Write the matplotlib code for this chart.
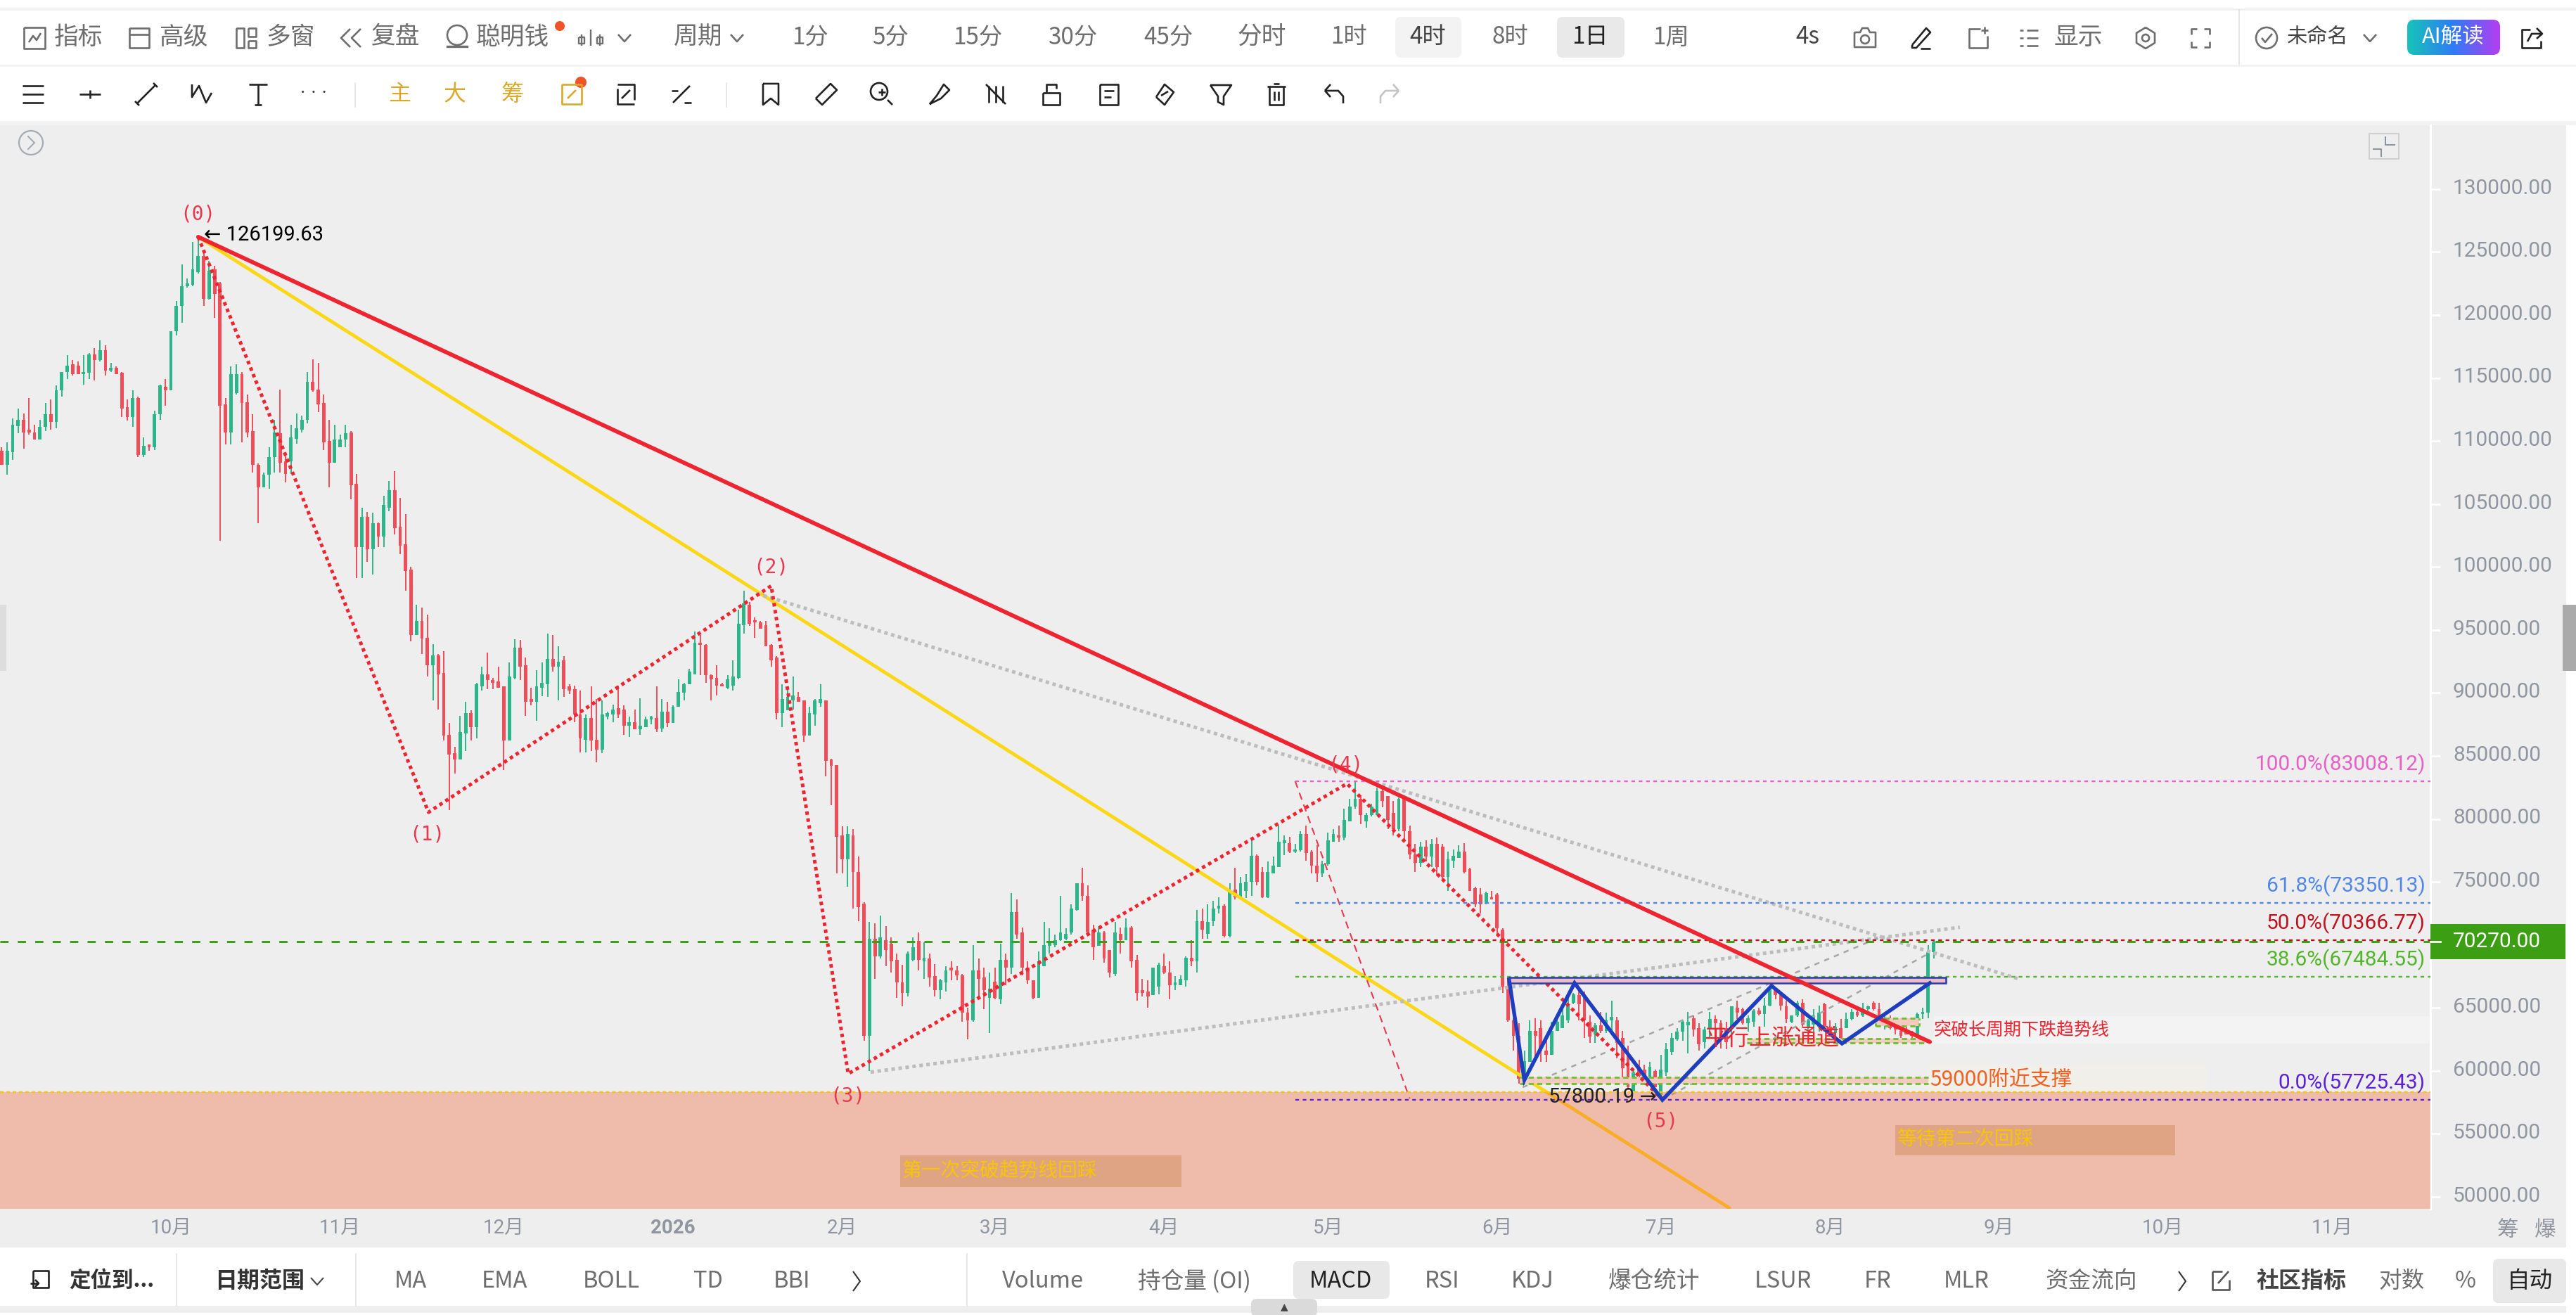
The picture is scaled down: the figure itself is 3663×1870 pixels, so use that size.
import numpy as np
import matplotlib
matplotlib.use("Agg")
import matplotlib.pyplot as plt
from matplotlib.colors import LinearSegmentedColormap
from matplotlib.patches import Circle, FancyBboxPatch, Rectangle
from matplotlib.transforms import ScaledTranslation

plt.rcParams["font.family"] = ["Noto Sans CJK SC", "DejaVu Sans"]

W, H = 3663, 1870

# daily candles in thousands
opens = [
    109.2,108.1,109.1,111.2,111.7,110.9,110.7,110.1,111.1,112.1,
    111.5,114.0,115.5,116.1,116.0,115.3,115.4,116.9,116.4,117.2,
    115.6,115.8,115.4,112.7,111.9,113.4,108.9,109.7,109.5,112.1,
    114.3,114.0,118.7,120.7,122.3,122.4,123.4,124.7,121.3,123.6,
    122.5,112.9,110.7,113.8,115.3,113.1,110.8,108.1,106.3,107.3,
    108.7,110.6,108.4,108.4,110.2,110.9,111.7,114.7,114.1,113.0,
    110.0,108.3,109.5,110.1,110.7,106.6,101.6,104.0,101.4,103.5,
    102.4,104.7,106.1,103.2,101.8,99.8,94.6,95.7,94.4,92.2,
    93.0,91.6,86.7,85.2,84.7,86.8,88.4,87.3,90.5,91.5,
    91.05,90.9,90.5,86.2,91.2,93.6,92.2,89.5,89.3,90.4,
    90.7,92.7,92.1,92.6,90.5,90.3,88.3,86.3,88.0,86.3,
    85.5,88.1,88.3,88.8,88.7,87.4,87.7,87.1,87.3,87.9,
    88.0,87.2,88.5,87.6,88.9,90.0,90.7,91.5,94.0,93.8,
    91.4,91.2,90.7,90.4,90.6,91.2,95.4,97.0,95.8,95.6,
    95.4,93.8,92.8,88.4,88.6,89.4,89.7,89.4,86.6,88.3,
    89.2,89.4,84.7,84.3,78.7,76.8,78.7,75.8,73.3,62.8,
    70.5,69.1,70.4,70.1,68.8,67.0,66.2,68.8,70.3,68.7,
    68.9,67.5,66.4,67.0,68.2,68.0,67.6,64.6,64.0,68.0,
    67.4,65.8,67.1,65.7,68.8,68.2,72.6,71.0,68.2,67.2,
    65.8,68.3,69.9,70.0,70.4,70.5,71.0,72.8,74.9,73.9,
    71.2,69.9,71.0,69.6,67.7,70.9,70.4,71.4,68.8,66.4,
    66.3,66.0,66.7,68.3,67.8,66.8,66.8,67.2,69.0,68.7,
    71.9,70.9,71.9,72.9,73.1,70.7,74.4,73.8,74.3,75.0,
    77.1,75.8,73.8,75.7,76.2,78.1,78.1,77.4,77.5,78.8,
    77.4,76.3,75.7,76.4,78.2,78.7,78.5,79.8,81.0,81.6,
    79.8,80.3,80.3,82.2,81.8,80.5,79.2,81.6,79.0,77.2,
    76.5,77.8,77.0,78.0,77.8,75.4,76.7,76.9,77.4,76.0,
    74.5,74.0,73.3,73.8,74.0,71.2,66.7,64.0,62.8,59.4,
    60.7,63.2,63.4,61.6,61.3,63.2,63.4,64.0,65.4,66.0,
    65.8,63.9,62.9,63.6,63.2,64.0,64.0,62.6,61.3,58.4,
    60.3,60.1,59.0,60.0,58.1,59.9,61.5,62.5,63.1,63.6,
    64.2,63.4,62.3,63.3,64.1,63.8,63.4,63.5,65.0,64.9,
    63.8,63.9,64.8,64.5,65.2,66.4,66.0,65.1,63.9,64.4,
    65.4,63.5,63.7,63.5,65.3,63.5,63.0,63.4,63.4,64.1,
    64.7,64.4,64.9,65.4,64.9,63.7,63.9,63.6,63.2,63.2,
    63.1,62.9,64.5,64.6,69.4,
]
highs = [
    109.5,109.9,111.8,112.6,112.2,113.4,111.3,111.7,113.0,113.3,
    114.4,115.5,116.8,116.4,116.3,116.8,117.0,117.4,118.0,117.6,
    116.2,115.9,115.5,113.3,114.0,113.5,110.3,109.7,112.4,114.5,
    114.9,118.7,121.1,124.0,122.9,125.8,126.2,124.9,124.3,123.9,
    122.6,113.4,115.9,116.1,115.5,113.7,112.1,108.2,107.5,109.5,
    111.7,114.1,109.1,111.3,112.2,112.0,115.5,116.5,116.2,113.7,
    111.7,111.3,110.5,111.3,110.8,107.4,104.7,104.35,104.3,103.55,
    105.65,106.8,107.6,105.5,104.2,100.0,97.0,96.75,96.2,93.9,
    93.1,93.3,87.6,85.7,88.2,89.3,88.6,90.8,92.1,93.2,
    91.2,92.1,90.5,92.4,94.25,94.2,92.8,90.4,91.8,92.4,
    94.7,94.6,93.7,92.9,90.7,90.6,90.2,88.3,90.5,89.5,
    89.4,88.5,89.1,90.6,89.0,88.1,88.7,89.6,88.1,88.2,
    90.5,89.5,89.3,89.0,91.1,90.8,91.9,94.9,94.6,93.9,
    91.5,92.2,90.8,91.4,92.6,96.6,98.1,97.2,96.0,95.7,
    95.7,93.9,92.9,90.7,90.5,91.3,90.1,89.4,88.9,89.5,
    90.7,89.4,84.8,84.3,79.4,79.4,79.2,77.0,73.4,71.8,
    71.7,72.3,71.5,70.6,69.3,68.4,69.5,70.6,71.0,70.2,
    69.3,68.5,67.3,68.3,68.7,68.3,67.7,65.0,70.0,68.9,
    68.2,67.8,68.2,70.1,69.3,74.1,73.6,71.4,68.7,67.2,
    69.5,71.8,71.3,70.8,73.9,71.3,73.2,74.9,76.1,74.7,
    71.6,71.4,71.1,69.6,71.8,71.4,72.1,71.5,69.2,67.3,
    67.2,68.2,68.6,69.3,68.7,67.5,67.6,69.1,70.4,72.8,
    72.9,73.2,73.5,73.8,73.2,74.9,76.1,75.4,75.6,78.4,
    77.2,76.2,76.6,77.0,79.5,78.7,78.6,78.0,79.0,79.5,
    77.5,77.9,76.7,78.9,79.2,79.5,80.8,81.6,82.95,81.9,
    80.5,81.2,82.5,82.3,81.8,81.4,81.7,81.7,79.5,78.0,
    78.2,78.3,78.4,78.5,78.0,77.4,77.6,77.9,78.1,76.1,
    74.6,74.5,74.2,74.3,74.1,71.3,67.5,64.2,63.8,61.6,
    64.0,64.2,64.0,62.8,63.9,64.4,65.4,66.0,66.2,66.4,
    66.3,64.4,63.8,64.7,64.6,65.6,64.3,63.2,62.0,60.1,
    60.9,60.5,60.7,60.1,61.3,62.2,63.0,63.4,64.0,64.7,
    64.4,63.8,63.5,64.7,64.4,64.0,63.9,65.1,65.6,65.0,
    64.4,64.9,65.0,65.8,66.7,66.6,66.2,65.6,64.4,65.6,
    65.7,64.1,64.9,65.2,65.4,64.0,63.8,64.1,64.6,64.9,
    64.8,65.4,65.2,65.5,65.4,64.4,64.4,64.1,63.4,63.5,
    63.2,64.6,65.0,70.0,70.4,
]
lows = [
    108.1,107.3,108.5,110.6,109.4,110.5,110.1,110.1,110.8,110.9,
    111.0,113.5,114.9,115.2,115.3,114.5,114.9,114.8,116.3,115.2,
    115.5,115.3,111.9,111.6,111.1,108.7,108.7,109.2,109.3,111.7,
    112.8,114.0,118.4,119.4,122.2,122.3,123.3,120.7,121.2,119.8,
    102.1,109.7,109.7,113.7,109.9,110.3,107.5,103.5,106.3,106.2,
    107.5,107.5,106.7,107.4,109.8,110.7,111.4,113.9,112.3,109.3,
    106.3,108.3,109.5,109.5,105.4,99.1,99.1,100.4,99.4,101.6,
    101.6,104.4,102.6,101.0,98.1,94.1,94.6,93.1,91.3,89.4,
    88.7,86.2,80.7,83.6,84.7,85.4,86.2,86.4,90.2,90.3,
    90.3,90.4,83.9,86.2,91.1,91.0,88.2,89.0,87.8,89.75,
    89.7,91.7,89.4,89.7,89.9,87.7,85.3,85.3,85.4,84.5,
    85.2,87.9,87.7,88.0,86.7,86.5,87.1,86.7,87.3,87.5,
    86.9,86.9,87.3,87.6,88.9,89.4,90.7,91.5,91.4,90.8,
    89.4,89.8,90.5,90.3,90.2,91.1,94.7,95.3,94.4,95.1,
    93.7,92.1,87.9,87.3,88.6,88.7,89.3,86.1,86.6,87.4,
    88.9,83.4,81.1,75.7,75.7,74.6,72.9,71.9,62.4,60.0,
    67.3,68.9,68.3,67.8,65.8,65.1,65.9,68.7,68.0,67.3,
    66.7,65.9,65.7,66.3,67.2,67.2,63.9,62.5,63.9,65.7,
    64.9,63.0,65.7,65.3,66.8,67.7,70.5,67.6,66.9,65.7,
    65.8,68.3,69.3,69.8,70.3,70.4,70.8,72.7,73.5,71.0,
    68.8,69.9,68.6,67.4,67.5,69.3,70.4,68.2,65.6,65.9,
    65.0,66.0,66.1,67.7,65.7,66.4,66.8,66.7,68.3,67.8,
    70.5,70.5,71.5,72.5,70.6,70.6,73.6,73.6,73.7,73.9,
    74.7,73.7,73.7,75.8,76.2,77.1,77.3,77.3,77.4,76.7,
    75.7,75.0,75.4,76.3,78.2,78.2,78.3,79.8,80.8,79.6,
    79.3,80.2,80.3,80.9,79.2,78.7,79.0,78.3,76.8,75.8,
    76.2,76.6,76.2,75.5,75.2,74.3,76.1,76.9,75.7,74.3,
    73.0,72.5,73.2,73.6,70.8,66.2,63.9,61.6,59.0,59.3,
    60.7,61.0,60.7,60.7,61.3,63.2,63.4,63.8,65.3,64.0,
    62.6,62.2,62.2,63.0,63.0,63.2,61.0,59.05,58.5,58.4,
    59.4,58.9,58.9,58.7,57.8,59.6,61.3,62.4,62.4,61.4,
    62.7,61.6,61.8,62.6,62.0,61.8,61.7,62.0,64.1,63.7,
    63.1,63.5,64.4,63.5,65.1,65.7,64.8,63.8,63.8,64.3,
    63.5,63.3,63.1,63.1,63.1,62.8,62.6,62.4,63.4,64.0,
    64.3,64.3,64.8,64.8,63.5,63.3,63.3,62.9,62.6,62.9,
    62.6,62.6,64.1,64.2,68.9,
]
closes = [
    108.1,109.2,111.3,111.7,110.7,110.7,110.1,111.1,112.1,111.5,
    114.0,115.5,116.0,115.3,115.3,115.5,116.9,116.4,117.2,115.6,
    115.8,115.3,112.6,111.9,113.4,108.9,109.6,109.5,112.1,114.4,
    114.0,118.7,120.7,122.3,122.5,123.6,124.7,121.3,123.5,121.7,
    112.8,110.7,115.3,115.3,113.0,110.7,108.1,106.3,107.3,108.7,
    110.7,108.3,107.4,110.3,111.0,111.7,114.7,114.0,112.9,109.9,
    108.3,110.1,110.1,110.6,106.5,101.6,104.0,101.4,103.5,102.4,
    104.9,106.1,103.1,101.7,99.7,94.6,95.7,94.3,92.2,93.0,
    91.5,86.6,85.1,84.7,86.9,88.4,87.3,90.7,91.5,91.0,
    90.8,90.4,86.2,91.3,93.6,92.1,89.3,89.3,90.5,90.8,
    92.7,92.1,92.5,90.3,90.2,88.3,86.4,88.0,86.2,85.5,
    88.3,88.4,88.7,88.3,87.4,87.7,87.1,87.4,87.9,88.1,
    87.1,88.5,87.6,88.9,90.1,90.7,91.7,94.0,93.8,91.4,
    91.1,90.6,90.5,91.1,91.3,95.5,97.1,95.5,95.6,95.1,
    93.7,92.6,88.4,89.5,89.7,89.8,89.3,86.6,88.4,89.4,
    89.5,84.6,84.2,78.6,76.8,78.8,75.8,73.0,62.8,70.5,
    69.1,70.6,69.6,68.7,67.0,66.2,69.3,69.8,68.8,69.0,
    67.4,66.4,67.2,68.0,68.0,67.6,64.6,64.0,68.0,67.3,
    66.4,66.5,65.8,68.8,68.2,72.6,70.8,68.2,67.2,65.8,
    68.7,70.0,70.3,70.4,71.0,70.9,72.9,74.9,73.9,71.0,
    69.8,71.0,68.9,67.8,71.0,70.4,71.4,68.7,66.2,66.2,
    65.9,68.2,68.4,67.8,66.8,67.0,67.3,69.0,68.7,71.9,
    71.2,71.8,72.9,73.1,70.7,74.2,73.8,74.9,75.0,77.1,
    75.0,73.8,75.8,76.3,78.2,78.3,77.4,77.6,78.8,77.3,
    76.3,75.7,76.4,78.3,78.8,78.5,79.9,81.0,81.6,80.3,
    80.3,81.0,82.2,81.4,79.9,79.2,81.6,79.0,77.2,76.5,
    77.8,77.0,78.0,76.2,75.4,76.8,77.1,77.4,75.8,74.3,
    73.2,73.2,74.1,73.6,71.3,66.7,64.0,62.8,59.4,60.8,
    63.2,62.8,61.6,61.3,63.2,63.9,64.4,65.2,66.1,65.3,
    64.0,62.7,63.6,63.2,64.0,64.3,62.2,60.2,58.7,59.9,
    59.6,59.0,60.3,58.7,60.1,61.7,62.6,63.1,63.9,63.9,
    63.3,62.1,63.3,64.1,63.8,62.6,62.3,65.1,64.6,63.8,
    64.2,64.8,64.5,65.2,66.6,66.0,65.2,64.1,64.4,65.4,
    63.7,64.0,64.4,64.6,63.5,63.0,63.5,62.6,64.1,64.7,
    64.4,64.9,65.1,64.9,64.1,64.0,63.4,63.3,62.8,62.9,
    62.8,64.5,64.7,69.4,70.27,
]

# axis: first candle is bar 0, one bar per day
month_bars = [31, 62, 92, 123, 154, 182, 213, 243, 274, 304, 335, 366, 396, 427]
month_labels = ["10月", "11月", "12月", "2026", "2月", "3月", "4月", "5月", "6月", "7月", "8月", "9月", "10月", "11月"]
price_ticks = list(range(50000, 135000, 5000))
last_price = 70270.00

# wave points (0)..(5)
wave_bars = [36, 78.2, 141, 155.1, 246.5, 304.3]
wave_prices = [126199.63, 80530, 98500, 59770, 82800, 57725]
wave_names = ["(0)", "(1)", "(2)", "(3)", "(4)", "(5)"]
wave_label_bars = [36, 78, 141, 155, 246.2, 304]
wave_label_prices = [128000, 78800, 100000, 58000, 84300, 56000]

# fibonacci levels
fib_labels = ["100.0%(83008.12)", "61.8%(73350.13)", "50.0%(70366.77)", "38.6%(67484.55)", "0.0%(57725.43)"]
fib_prices = [83008.12, 73350.13, 70366.77, 67484.55, 57725.43]
fib_colors = ["#E85FC5", "#4F86E8", "#C1121F", "#52B52A", "#5B21D6"]

# M/W pattern drawn in blue
zig_bars = [276.2, 279, 288.2, 304.3, 324.3, 337.2, 353.3]
zig_prices = [67250, 59270, 66970, 57700, 66750, 62170, 66970]

GREEN, RED = "#2DB58A", "#EE4D5A"
GRAY_TXT = "#8F96A0"
UI_TXT = "#6E6E6E"

fig = plt.figure(figsize=(W / 100, H / 100), dpi=100, facecolor="white")


def px_axes(z):
    a = fig.add_axes([0, 0, 1, 1], zorder=z)
    a.set_xlim(0, W)
    a.set_ylim(H, 0)
    a.axis("off")
    return a


back = px_axes(-1)
back.add_patch(Rectangle((0, 178), 3649, 1596, color="#EEEEEE", lw=0))
back.add_patch(Rectangle((0, 12), W, 3, color="#F1F1F1", lw=0))
back.add_patch(Rectangle((0, 92), W, 3, color="#F3F3F3", lw=0))
back.add_patch(Rectangle((0, 172), W, 6, color="#F3F3F3", lw=0))
back.add_patch(Rectangle((0, 1857), 3649, 10, color="#EEEEEE", lw=0))

ax = fig.add_axes([0, 1 - 1719 / H, 3456 / W, (1719 - 178) / H], zorder=1)
ax.set_facecolor("#EEEEEE")
ax.set_xlim(-0.32, 445.03)
ax.set_ylim(49050, 135070)

o = np.array(opens) * 1000
h = np.array(highs) * 1000
l = np.array(lows) * 1000
c = np.array(closes) * 1000
bars = np.arange(len(o))
colors = [GREEN if cc >= oo else RED for oo, cc in zip(o, c)]

ax.vlines(bars, l, h, colors=colors, lw=1.4, zorder=2)
ax.bar(bars, np.abs(c - o), bottom=np.minimum(o, c), width=0.62, color=colors, lw=0, zorder=2)

# faint label bands
ax.add_patch(Rectangle((354, 62170), 91, 2180, color="#F3F3F3", lw=0, zorder=1))
ax.add_patch(Rectangle((353, 58330), 51, 2170, color="#F0EFE9", lw=0, zorder=1))

# thick trend lines from the top
ax.plot([36, 316.8], [126199.63, 49050], color="#FBD716", lw=3.5, zorder=3, solid_capstyle="butt")
ax.plot([36, 353.3], [126199.63, 62300], color="#EE2430", lw=4.2, zorder=6, solid_capstyle="round")

# support zone, over the yellow line
ax.axhspan(49050, 58330, color="#F37045", alpha=0.4, lw=0, zorder=4)
ax.axhline(58330, color="#F5C518", lw=1.7, ls=(0, (2.2, 1.6)), zorder=5)

# gray dotted wedge
wedge_style = dict(color="#BDBDBD", lw=3.6, ls=(0, (1, 1)), zorder=3)
ax.plot([138.3, 370], [97900, 67250], **wedge_style)
ax.plot([159.2, 358.8], [59900, 71400], **wedge_style)

# rising channel
chan_style = dict(color="#A6A6A6", lw=1.8, ls=(0, (3, 3)), zorder=3)
ax.plot([278.7, 344.4], [58700, 70650], **chan_style)
ax.plot([304.3, 353.3], [57700, 69370], **chan_style)

# price line
ax.axhline(last_price, color="#3A9E14", lw=2.1, ls=(0, (4, 4.5)), zorder=3)

# fib levels and their diagonal
ax.plot([237, 258], [83008, 57800], color="#E8384F", lw=1.5, ls=(0, (5, 3.5)), zorder=3)
for lab, p, col in zip(fib_labels, fib_prices, fib_colors):
    ax.plot([237, 445.03], [p, p], color=col, lw=1.7, ls=(0, (2.2, 2.2)), zorder=5)
    ax.text(444.1, p + 1340, lab, color=col, ha="right", va="center", fontsize=21.5,
            family=["Roboto", "DejaVu Sans"], zorder=8)

# wave as red dots
ax.plot(wave_bars, wave_prices, color="#EE2430", lw=3.6, ls=(0, (1, 1)), zorder=5)
for name, xb, yp in zip(wave_names, wave_label_bars, wave_label_prices):
    ax.text(xb, yp, name, color="#E8384F", fontsize=20, ha="center", va="center",
            family=["DejaVu Sans Mono"], zorder=8)

# support boxes, green dashed top and bottom
boxes = [(278.2, 353, 59000, 59490), (319.8, 352.5, 62200, 62560), (343.3, 351.3, 63560, 64200)]
for x0, x1, p0, p1 in boxes:
    ax.add_patch(Rectangle((x0, p0), x1 - x0, p1 - p0, color="#F3C9C0", lw=0, zorder=3))
    for p in (p0, p1):
        ax.plot([x0, x1], [p, p], color="#6FBE2C", lw=2.0, ls=(0, (2.6, 1.8)), zorder=4)
ax.plot([343.3, 343.3], [63560, 64200], color="#6FBE2C", lw=2.0, ls=(0, (1.5, 1.5)), zorder=4)
ax.plot([351.3, 351.3], [63560, 64200], color="#6FBE2C", lw=2.0, ls=(0, (1.5, 1.5)), zorder=4)

# resistance box
ax.add_patch(Rectangle((276.2, 66970), 80, 450, facecolor="#E9BCC6", edgecolor="#2A3BB0", lw=1.8, zorder=5))

# blue pattern
ax.plot(zig_bars, zig_prices, color="#1F3DBF", lw=3.9, zorder=7, solid_joinstyle="miter")

ax.text(37.0, 126199.63 + 150, "← 126199.63", color="black", fontsize=21, ha="left", va="center",
        family=["Roboto", "DejaVu Sans"], zorder=8)
ax.text(303.2, 57900, "57800.19 →", color="#222222", fontsize=21, ha="right", va="center",
        family=["Roboto", "DejaVu Sans"], zorder=8)
ax.text(312.0, 62550, "平行上涨通道", color="#EE2430", fontsize=23, ha="left", va="center", zorder=8)
ax.text(354, 63250, "突破长周期下跌趋势线", color="#EE2430", fontsize=18, ha="left", va="center", zorder=8)
ax.text(353.3, 59300, "59000附近支撑", color="#F2601F", fontsize=21.5, ha="left", va="center", zorder=8)

ax.add_patch(Rectangle((164.6, 50780), 51.6, 2510, color="#DFA484", lw=0, zorder=5))
ax.add_patch(Rectangle((347, 53300), 51.3, 2370, color="#DFA484", lw=0, zorder=5))
ax.text(165, 52050, "第一次突破趋势线回踩", color="#F7C600", fontsize=20, ha="left", va="center", zorder=8)
ax.text(347.2, 54600, "等待第二次回踩", color="#F7C600", fontsize=20, ha="left", va="center", zorder=8)

# axes furniture
ax.yaxis.tick_right()
ax.set_yticks(price_ticks)
# 70000 sits under the last price tag
ax.set_yticklabels(["" if p == 70000 else f"{p:.2f}" for p in price_ticks],
                   family=["Roboto"], fontsize=21.5, color=GRAY_TXT)
ax.tick_params(axis="y", length=10, width=2, color="white", pad=13)
nudge = ScaledTranslation(0, 3 / 72, fig.dpi_scale_trans)
for lab in ax.get_yticklabels():
    lab.set_transform(lab.get_transform() + nudge)
ax.set_xticks(month_bars)
ax.set_xticklabels(month_labels, family=["Roboto", "Noto Sans CJK SC"], fontsize=20, color=GRAY_TXT)
ax.get_xticklabels()[3].set_fontweight("bold")
ax.tick_params(axis="x", length=0, pad=10)
for name in ("top", "left", "bottom"):
    ax.spines[name].set_visible(False)
ax.spines["right"].set_color("white")
ax.spines["right"].set_linewidth(2.2)

ui = px_axes(5)

# last price tag
ui.add_patch(Rectangle((3456, 1314), 192, 50, color="#3C9E12", lw=0))
ui.plot([3456, 3470], [1339, 1339], color="white", lw=2)
ui.text(3488, 1339, f"{last_price:.2f}", color="white", fontsize=21.5, va="center", family=["Roboto"])

# top and bottom toolbars
row1 = [("指标", 112), ("高级", 262), ("多窗", 413), ("复盘", 563), ("聪明钱", 729), ("周期", 993),
        ("1分", 1152), ("5分", 1266), ("15分", 1390), ("30分", 1525), ("45分", 1661), ("分时", 1794),
        ("1时", 1918), ("4时", 2030), ("8时", 2147), ("1日", 2261), ("1周", 2376), ("4s", 2570),
        ("显示", 2955), ("未命名", 3296)]
row3 = [("MA", 584), ("EMA", 717), ("BOLL", 869), ("TD", 1007), ("BBI", 1126), ("Volume", 1483),
        ("持仓量 (OI)", 1698), ("MACD", 1906), ("RSI", 2051), ("KDJ", 2179), ("爆仓统计", 2352),
        ("LSUR", 2535), ("FR", 2670), ("MLR", 2796), ("资金流向", 2974), ("对数", 3415), ("%", 3506),
        ("自动", 3597)]


def pill(x0, y0, x1, y1, col):
    ui.add_patch(FancyBboxPatch((x0 + 8, y0 + 8), x1 - x0 - 16, y1 - y0 - 16,
                                boxstyle="round,pad=8", color=col, lw=0, zorder=0.5))


pill(1984, 24, 2078, 82, "#F3F3F3")
pill(2214, 24, 2310, 82, "#E9E9E9")
pill(1839, 1793, 1976, 1847, "#E8E8E8")
pill(3545, 1790, 3649, 1853, "#E8E8E8")
pill(1779, 1847, 1873, 1872, "#DADADA")
ui.text(1826, 1858, "▲", color="#444444", fontsize=10, ha="center", va="center", family=["DejaVu Sans"])

for t, x in row1:
    col = "#222222" if t == "1日" else "#444444" if t in ("4时", "4s", "未命名") else UI_TXT
    fs = 21 if t == "未命名" else 25 if len(t) > 1 and t[0] not in "0123456789" else 24
    ui.text(x, 53, t, color=col, fontsize=fs, ha="center", va="center")
for t, x in row3:
    col = "#222222" if t in ("MACD", "自动") else UI_TXT
    ui.text(x, 1822, t, color=col, fontsize=23.5, ha="center", va="center")
ui.text(159, 1822, "定位到...", color="#333333", fontsize=22, ha="center", va="center", fontweight="bold")
ui.text(369, 1822, "日期范围", color="#333333", fontsize=23, ha="center", va="center", fontweight="bold")
ui.text(3273, 1822, "社区指标", color="#444444", fontsize=23, ha="center", va="center", fontweight="bold")
for x, t in [(3566, "筹"), (3619, "爆")]:
    ui.text(x, 1750, t, color=GRAY_TXT, fontsize=22, ha="center", va="center")
for x, t in [(568, "主"), (647, "大"), (729, "筹")]:
    ui.text(x, 134, t, color="#D9A92B", fontsize=23, ha="center", va="center")

# separators
for x, y0, y1 in [(251, 1783, 1857), (506, 1783, 1857), (1375, 1783, 1857), (505, 118, 152), (1033, 118, 152), (3184, 14, 92)]:
    ui.plot([x, x], [y0, y1], color="#E3E3E3", lw=1.2)

# simple outline icons, offsets in pixels from the icon centre
ICONS = {
    "square": [[(-15, -15), (15, -15), (15, 15), (-15, 15), (-15, -15)], [(-8, 6), (-2, -3), (3, 3), (9, -7)]],
    "panel": [[(-14, -14), (14, -14), (14, 14), (-14, 14), (-14, -14)], [(-14, -5), (14, -5)]],
    "split": [[(-14, -14), (-3, -14), (-3, 14), (-14, 14), (-14, -14)], [(3, -14), (14, -14), (14, -2), (3, -2), (3, -14)], [(3, 4), (14, 4), (14, 14), (3, 14), (3, 4)]],
    "rewind": [[(-2, -13), (-15, 0), (-2, 13)], [(13, -13), (0, 0), (13, 13)]],
    "v": [[(-9, -5), (0, 5), (9, -5)]],
    "bars": [[(-13, -7), (-13, 9)], [(0, -14), (0, 9)], [(13, -7), (13, 9)], [(-17, -3), (-9, -3), (-9, 6), (-17, 6), (-17, -3)], [(9, -3), (17, -3), (17, 6), (9, 6), (9, -3)]],
    "menu": [[(-15, -12), (15, -12)], [(-15, 0), (15, 0)], [(-15, 12), (15, 12)]],
    "hline": [[(-15, 0), (15, 0)], [(0, -6), (0, 6)]],
    "diag": [[(-13, 13), (13, -13)], [(-16, 10), (-10, 16)], [(10, -16), (16, -10)]],
    "zigzag": [[(-14, -14), (-14, 4), (-4, -12), (6, 12), (14, -2)]],
    "tee": [[(-13, -14), (13, -14)], [(0, -14), (0, 15)], [(-5, 15), (5, 15)]],
    "box": [[(-14, -14), (14, -14), (14, 14), (-14, 14), (-14, -14)], [(-6, 6), (6, -6)]],
    "cycle": [[(-12, -14), (12, -14), (12, 8)], [(12, 14), (-12, 14), (-12, -8)], [(-6, 6), (6, -6)]],
    "cross": [[(-12, 12), (12, -12)], [(-14, -5), (-5, -5)], [(4, 12), (14, 12)]],
    "book": [[(-11, -15), (11, -15), (11, 15), (0, 6), (-11, 15), (-11, -15)]],
    "ruler": [[(-15, 6), (6, -15), (15, -6), (-6, 15), (-15, 6)]],
    "lens": [[(8, 8), (15, 15)], [(-5, -3), (5, -3)], [(0, -8), (0, 2)]],
    "brush": [[(-14, 14), (-4, 2), (6, -14), (14, -6), (2, 6), (-14, 14)]],
    "crossed": [[(-10, -12), (-10, 12)], [(0, -12), (0, 12)], [(10, -12), (10, 12)], [(-14, -14), (14, 14)]],
    "lock": [[(-12, -2), (12, -2), (12, 15), (-12, 15), (-12, -2)], [(-7, -2), (-7, -14), (7, -14), (7, -8)]],
    "note": [[(-13, -14), (13, -14), (13, 15), (-13, 15), (-13, -14)], [(-7, -5), (7, -5)], [(-7, 4), (3, 4)]],
    "link": [[(-12, 4), (0, -14), (13, -3), (0, 15), (-12, 4)], [(-5, 2), (5, -4)]],
    "funnel": [[(-15, -13), (15, -13), (4, 3), (4, 15), (-4, 11), (-4, 3), (-15, -13)]],
    "trash": [[(-13, -11), (13, -11)], [(-10, -11), (-10, 15), (10, 15), (10, -11)], [(-4, -15), (4, -15)], [(-3, -4), (-3, 9)], [(3, -4), (3, 9)]],
    "undo": [[(-13, -5), (-5, -14)], [(-13, -5), (-5, 4)], [(-13, -5), (6, -5), (13, 3), (13, 13)]],
    "redo": [[(13, -5), (5, -14)], [(13, -5), (5, 4)], [(13, -5), (-6, -5), (-13, 3), (-13, 13)]],
    "camera": [[(-15, -8), (-7, -8), (-4, -14), (4, -14), (7, -8), (15, -8), (15, 13), (-15, 13), (-15, -8)]],
    "pencil": [[(-12, 10), (8, -14), (14, -8), (-6, 14), (-12, 14), (-12, 10)], [(0, 15), (14, 15)]],
    "plusbox": [[(3, -13), (-13, -13), (-13, 14), (13, 14), (13, -3)], [(9, -16), (9, -6)], [(4, -11), (14, -11)]],
    "list": [[(-13, -11), (-8, -11)], [(-13, 0), (-8, 0)], [(-13, 11), (-8, 11)], [(-3, -11), (13, -11)], [(-3, 0), (13, 0)], [(-3, 11), (13, 11)]],
    "hexa": [[(0, -15), (13, -7), (13, 7), (0, 15), (-13, 7), (-13, -7), (0, -15)]],
    "corners": [[(-13, -5), (-13, -13), (-5, -13)], [(5, -13), (13, -13), (13, -5)], [(13, 5), (13, 13), (5, 13)], [(-5, 13), (-13, 13), (-13, 5)]],
    "share": [[(-2, -12), (-14, -12), (-14, 14), (13, 14), (13, 4)], [(-6, 5), (0, -6), (13, -6)], [(7, -14), (15, -6), (7, 1)]],
    "tray": [[(-11, -15), (11, -15), (11, 9), (-11, 9), (-11, -15)], [(-15, 3), (-4, 3)], [(-8, -2), (-3, 3), (-8, 8)]],
    "edit": [[(-12, -12), (2, -12)], [(-12, -12), (-12, 14), (12, 14), (12, 0)], [(-4, 5), (11, -12)]],
    "check": [[(-7, 0), (-2, 6), (8, -6)]],
    "right": [[(-4, -14), (6, 0), (-4, 14)]],
}


def icon(kind, x, y, col="#222222", lw=1.9):
    for seg in ICONS[kind]:
        ui.plot([x + s[0] for s in seg], [y + s[1] for s in seg], color=col, lw=lw, solid_capstyle="butt")


gray_icons = [("square", 49), ("panel", 198), ("split", 350), ("rewind", 500), ("v", 888), ("v", 1048),
              ("camera", 2652), ("plusbox", 2813), ("list", 2885), ("hexa", 3051), ("corners", 3129), ("v", 3370)]
for kind, x in gray_icons:
    icon(kind, x, 54, col="#6E6E6E")
ui.add_patch(Circle((650, 50), 14, fill=False, ec="#6E6E6E", lw=1.9))
ui.plot([636, 664], [66, 66], color="#6E6E6E", lw=2.4)
icon("bars", 840, 56, col="#6E6E6E", lw=1.7)
icon("pencil", 2731, 54)
icon("share", 3600, 54)
ui.add_patch(Circle((3223, 54), 15, fill=False, ec="#6E6E6E", lw=1.9))
icon("check", 3223, 54, col="#6E6E6E")
ui.add_patch(Circle((3051, 54), 5, fill=False, ec="#6E6E6E", lw=1.9))
ui.add_patch(Circle((2652, 56), 6, fill=False, ec="#6E6E6E", lw=1.9))

row2_icons = [("menu", 47), ("hline", 128), ("diag", 208), ("zigzag", 287), ("tee", 367),
              ("cycle", 890), ("cross", 969), ("book", 1096), ("ruler", 1175), ("lens", 1254),
              ("brush", 1336), ("crossed", 1416), ("lock", 1495), ("note", 1577), ("link", 1656),
              ("funnel", 1736), ("trash", 1815), ("undo", 1897)]
for kind, x in row2_icons:
    icon(kind, x, 134)
ui.add_patch(Circle((1250, 130), 12, fill=False, ec="#222222", lw=1.9))
icon("redo", 1976, 134, col="#C4C4C4")
ui.text(446, 131, "···", color="#333333", fontsize=11, ha="center", va="center")
icon("box", 813, 134, col="#D9A92B")
ui.add_patch(Circle((796, 37), 7, color="#F0522A", lw=0))
ui.add_patch(Circle((826, 117), 8, color="#F0522A", lw=0))

icon("tray", 58, 1822)
icon("v", 451, 1822, col="#444444", lw=1.5)
icon("right", 1217, 1822, col="#333333", lw=1.5)
icon("right", 3102, 1822, col="#333333", lw=1.5)
icon("edit", 3158, 1820, col="#555555")

# chart corner widgets
ui.add_patch(Circle((44, 203), 17, fill=False, ec="#A5ABB2", lw=1.6))
ui.plot([40, 49, 40], [194, 203, 212], color="#A5ABB2", lw=1.5)
ui.add_patch(Rectangle((3369, 190), 42, 36, fc="#EEEEEE", ec="#C9C9C9", lw=1.2))
ui.plot([3392, 3392, 3405], [195, 206, 206], color="#8F96A0", lw=1.5)
ui.plot([3375, 3386, 3386], [212, 212, 222], color="#8F96A0", lw=1.5)
ui.add_patch(Rectangle((0, 860), 9, 94, color="#DDDDDD", lw=0))
ui.add_patch(Rectangle((3644, 860), 19, 94, color="#AAAAAA", lw=0))

# AI button with its colour ramp
ramp = LinearSegmentedColormap.from_list("ai", ["#16C4B8", "#2F7CF6", "#B63CF0"])
grad = np.linspace(0, 1, 256).reshape(1, -1)
ai_box = FancyBboxPatch((3433, 38), 112, 30, boxstyle="round,pad=10", transform=ui.transData, fc="none", lw=0)
ui.add_patch(ai_box)
im = ui.imshow(grad, extent=(3423, 3555, 78, 28), aspect="auto", cmap=ramp, zorder=1)
im.set_clip_path(ai_box)
ui.set_xlim(0, W)
ui.set_ylim(H, 0)
ui.text(3488, 53, "AI解读", color="white", fontsize=22, ha="center", va="center", zorder=2)

fig.savefig("out.png", dpi=100, facecolor="white")
